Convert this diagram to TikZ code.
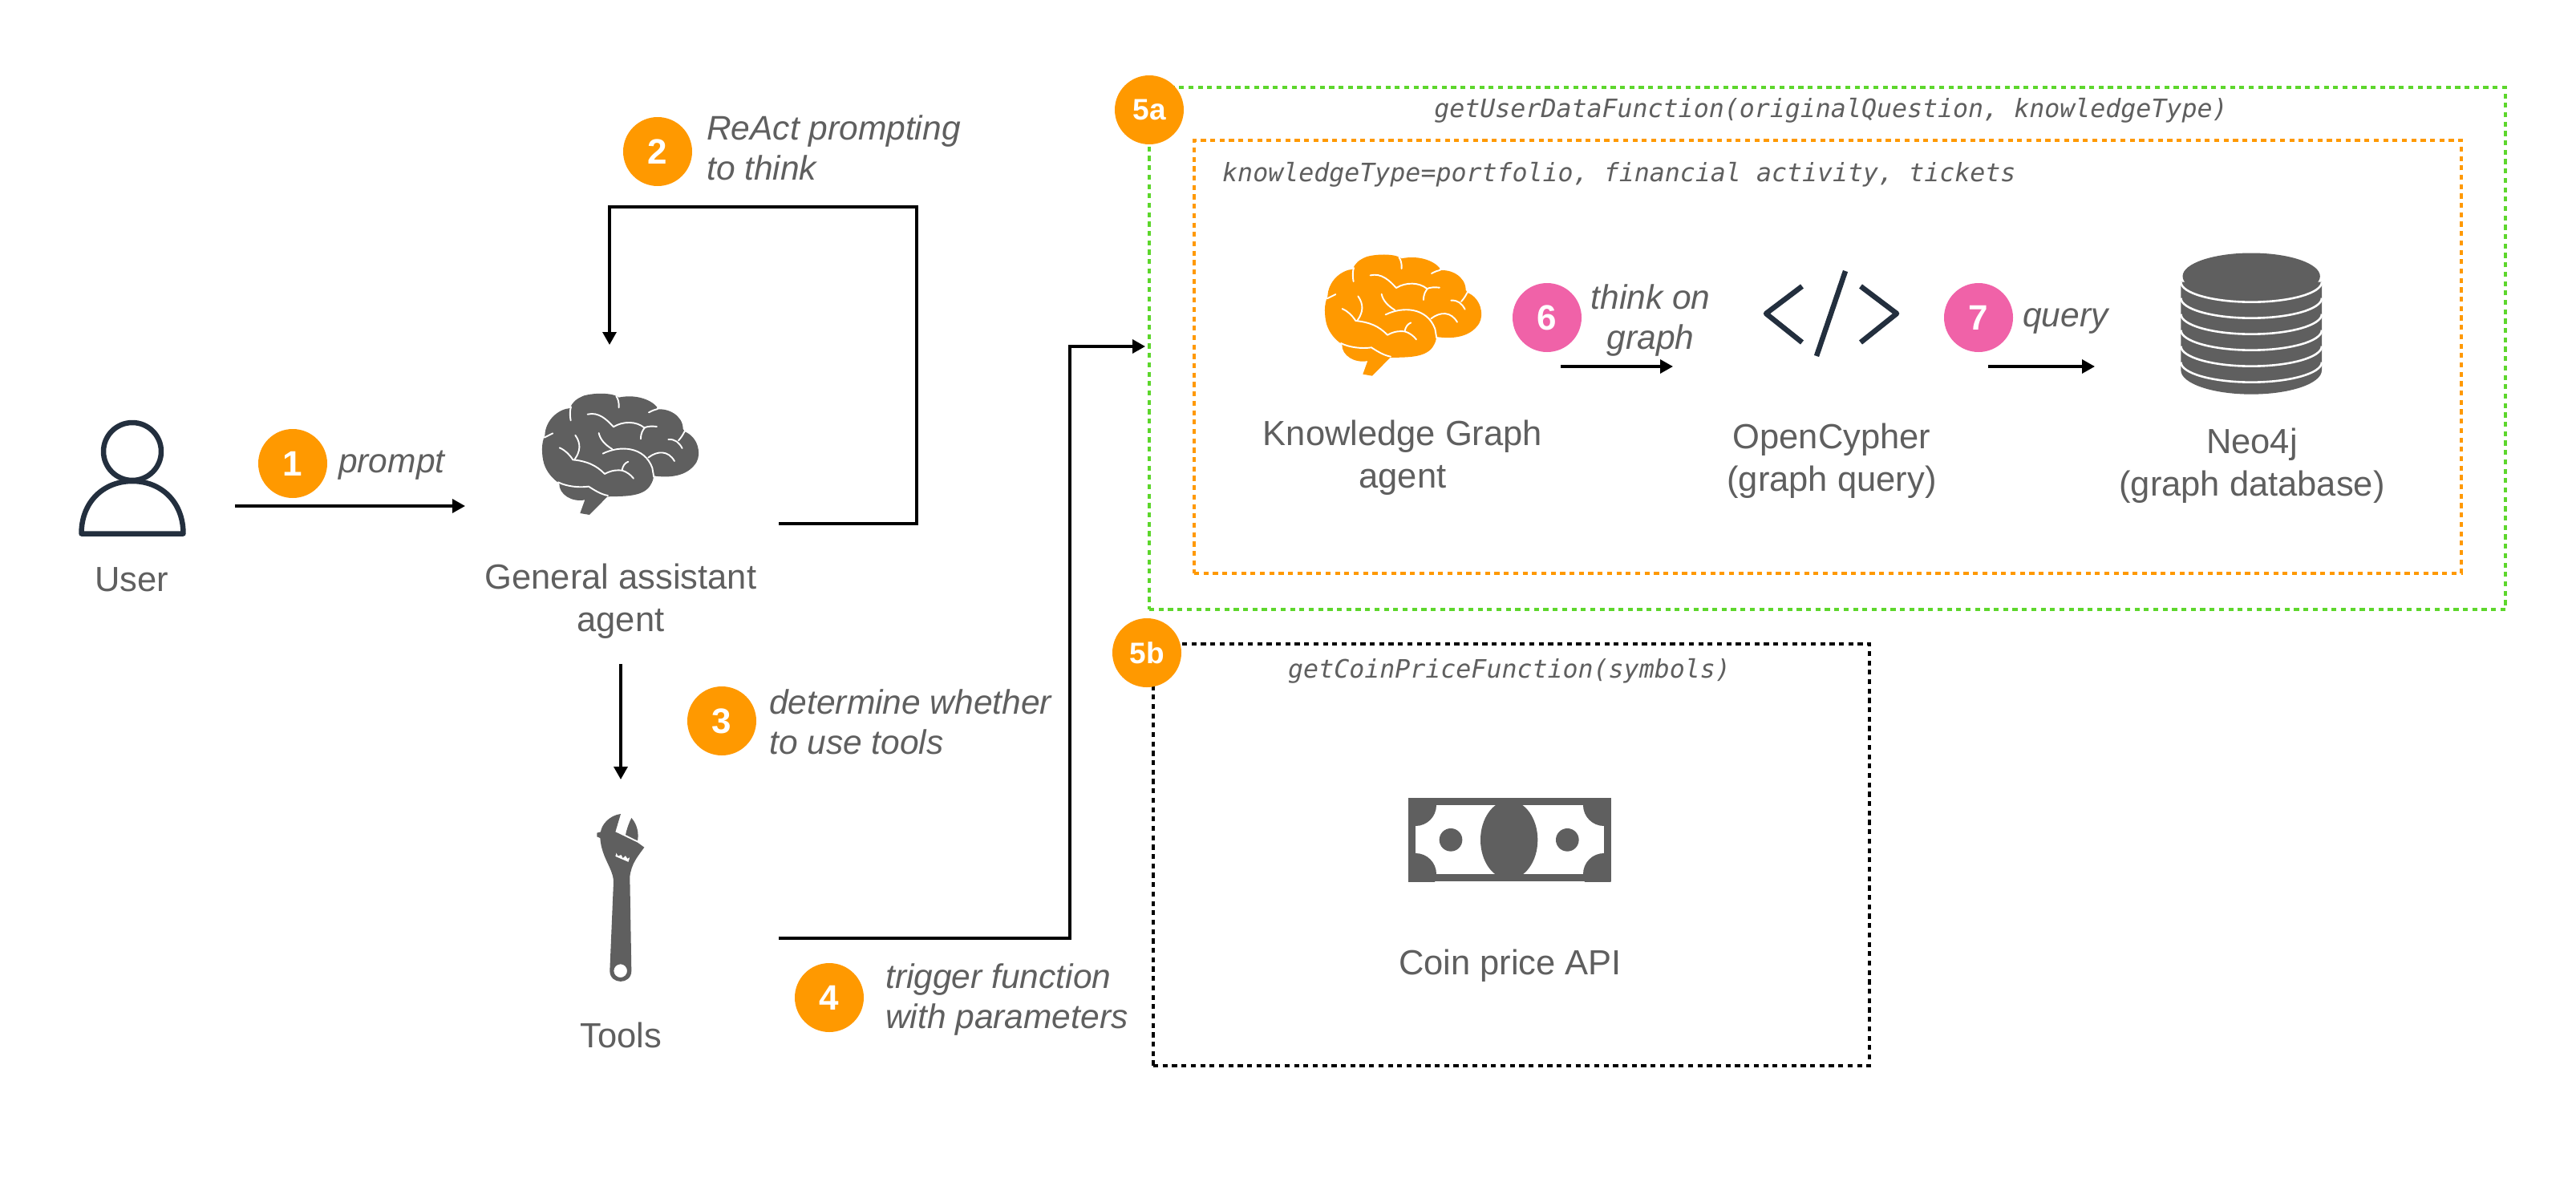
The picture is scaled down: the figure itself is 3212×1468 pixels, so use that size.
\documentclass[tikz,border=0pt]{standalone}
\usepackage{fontspec}
\setmainfont{Liberation Sans}
\newfontfamily\monoit[Scale=1]{DejaVu Sans Mono Oblique}
\usetikzlibrary{arrows.meta}
\definecolor{icongray}{HTML}{5F5F5F}
\definecolor{textgray}{HTML}{5F5F5F}
\definecolor{navy}{HTML}{232F3E}
\definecolor{stepor}{HTML}{FF9900}
\definecolor{steppk}{HTML}{F062A8}
\definecolor{dashgreen}{HTML}{5DD62C}
\newcommand{\brainicon}[3]{%
\begin{scope}[shift={(#2,#3)},x=0.3333pt,y=-0.3333pt]
\fill[#1] (370,540) -- (405,546) -- (472,478) .. controls (530,476) and (600,480) .. (630,440)
 .. controls (640,425) and (645,412) .. (645,400)
 .. controls (700,408) and (770,405) .. (805,350) .. controls (825,315) and (810,255) .. (762,235)
 -- (755,225) .. controls (755,175) and (700,145) .. (655,152) -- (658,143)
 .. controls (630,110) and (570,95) .. (515,107)
 .. controls (495,90) and (430,88) .. (385,100) .. controls (355,112) and (340,125) .. (333,147)
 .. controls (290,150) and (240,190) .. (238,250)
 .. controls (225,275) and (225,320) .. (235,355) .. controls (245,385) and (265,410) .. (292,428)
 .. controls (290,470) and (340,500) .. (388,490) -- cycle;
\begin{scope}[draw=white,line width=1.9pt,line cap=round,line join=round]
\draw (515,145) .. controls (516,125) and (512,112) .. (505,102);
\draw (335,193) .. controls (331,170) and (332,155) .. (336,142);
\draw (236,257) -- (268,241);
\draw (627,163) .. controls (640,156) and (650,152) .. (660,150);
\draw (762,232) .. controls (755,245) and (750,255) .. (738,268);
\draw (700,264) .. controls (725,262) and (740,275) .. (752,297);
\draw (398,170) .. controls (440,160) and (470,190) .. (495,217) .. controls (530,195) and (580,195) .. (610,220) .. controls (625,214) and (640,214) .. (657,216);
\draw (597,262) .. controls (597,240) and (605,228) .. (612,220);
\draw (440,240) .. controls (445,265) and (465,285) .. (490,300);
\draw (455,317) .. controls (520,285) and (610,290) .. (640,370) -- (646,405);
\draw (625,332) .. controls (660,305) and (700,305) .. (723,345);
\draw (352,248) .. controls (375,280) and (370,310) .. (350,338);
\draw (293,295) .. controls (315,305) and (330,320) .. (343,340) .. controls (395,345) and (430,360) .. (462,393) .. controls (490,378) and (510,378) .. (527,380) .. controls (545,385) and (560,397) .. (570,410);
\draw (527,378) .. controls (530,362) and (538,352) .. (550,347);
\draw (288,424) .. controls (320,440) and (365,445) .. (402,440) .. controls (425,455) and (450,470) .. (474,474);
\end{scope}
\end{scope}}
\tikzset{
 flow/.style={black,line width=3.4pt,-{Triangle[length=16pt,width=17pt]}},
 stepcirc/.style={circle,minimum size=86pt,inner sep=0pt,text=white,font=\fontsize{44}{44}\selectfont\bfseries},
 orstep/.style={stepcirc,fill=stepor},
 pkstep/.style={stepcirc,fill=steppk},
 lab/.style={text=textgray,font=\fontsize{43.5}{53}\selectfont,align=center,inner sep=0pt},
 note/.style={text=textgray,font=\fontsize{42.5}{50}\selectfont\itshape,align=left,inner sep=0pt,anchor=west},
 code/.style={text=textgray,font=\fontsize{31.6}{34}\monoit,inner sep=0pt},
 dashbox/.style={line width=4pt,dash pattern=on 6.2pt off 5.5pt},
}
\begin{document}
\begin{tikzpicture}[x=1pt,y=-1pt]
\useasboundingbox (0,0) rectangle (3212,1468);
\fill[white] (0,0) rectangle (3212,1468);
% dashed boxes
\node[dashbox,draw=dashgreen,anchor=north west,minimum width=1691pt,minimum height=651pt,inner sep=0pt] (green) at (1431,107) {};
\node[dashbox,draw=stepor,anchor=north west,minimum width=1580pt,minimum height=540pt,inner sep=0pt] (orange) at (1487,173) {};
\node[dashbox,draw=black,anchor=north west,minimum width=893pt,minimum height=526pt,inner sep=0pt] (blackbox) at (1436,801) {};
% user icon
\begin{scope}[draw=navy,line width=6.5pt,line join=round]
\draw (165,563) circle (36);
\draw (101.5,665.5) .. controls (101.5,625) and (130,600) .. (165,600) .. controls (200,600) and (228.5,625) .. (228.5,665.5) -- cycle;
\end{scope}
% brains
\brainicon{icongray}{600}{460}
\brainicon{stepor}{1576}{286.7}
% wrench
\begin{scope}[shift={(700,960)},x=0.3333pt,y=-0.3333pt]
\fill[icongray,even odd rule] (222,165) -- (202,232) -- (285,272) -- (310,290)
 .. controls (285,325) and (262,350) .. (256,400) -- (262,752)
 .. controls (262,805) and (181,805) .. (181,752) -- (195,420)
 .. controls (195,370) and (150,330) .. (145,255) -- (133,250) -- (133,236) -- (147,232)
 .. controls (150,205) and (180,170) .. (222,165) -- cycle
 (221,752) circle (25)
 (205,310) -- (212,322) -- (224,318) -- (230,330) -- (240,321) -- (247,332) -- (256,327) -- (251,345) -- (202,324) -- cycle;
\fill[icongray] (262,180) .. controls (285,205) and (290,240) .. (285,265) -- (240,243) .. controls (245,220) and (252,200) .. (262,180) -- cycle;
\end{scope}
% code icon
\begin{scope}[draw=navy,line width=6.5pt,line join=round]
\draw (2247,357) -- (2202,391) -- (2247,427);
\draw (2320,357) -- (2365,391) -- (2320,427);
\draw (2301,338) -- (2265,444);
\end{scope}
% database
\begin{scope}[shift={(2660,290)},x=0.3333pt,y=-0.3333pt]
\fill[icongray] (178,185) -- (705,185) -- (705,515) arc[start angle=0,end angle=180,x radius=263.5,y radius=90] -- cycle;
\foreach \yy in {185,245,305,365,425,485}
 \draw[white,line width=2.6pt] (178,\yy) arc[start angle=180,end angle=0,x radius=263.5,y radius=75];
\fill[white] (170,100) rectangle (713,178);
\fill[icongray] (441.5,163.5) ellipse[x radius=257,y radius=87];
\end{scope}
% money
\begin{scope}[shift={(1720,970)},x=0.3333pt,y=-0.3333pt]
\fill[icongray] (108,75) rectangle (866,387);
\fill[white] (135,102) rectangle (840,360);
\begin{scope}
\clip (108,75) rectangle (866,387);
\fill[icongray] (135,102) circle (78);
\fill[icongray] (840,102) circle (78);
\fill[icongray] (135,360) circle (78);
\fill[icongray] (840,360) circle (78);
\fill[icongray] (485,232) ellipse[x radius=107,y radius=147];
\end{scope}
\fill[icongray] (267,232) circle (43);
\fill[icongray] (703,232) circle (43);
\end{scope}
% coordinates for connectors
\coordinate (a1) at (293,631);
\coordinate (a1e) at (580,631);
\coordinate (a2) at (971,653);
\coordinate (a2e) at (760,430);
\coordinate (a3) at (774,828);
\coordinate (a3e) at (774,972);
\coordinate (a4) at (971,1170);
\coordinate (a4e) at (1428,432);
\coordinate (a6) at (1946,457);
\coordinate (a6e) at (2086,457);
\coordinate (a7) at (2479,457);
\coordinate (a7e) at (2612,457);
\draw[flow] (a1) -- (a1e);
\draw[flow] (a2) -- (1143,653) -- (1143,258) -- (760,258) -- (a2e);
\draw[flow] (a3) -- (a3e);
\draw[flow] (a4) -- (1334,1170) -- (1334,432) -- (a4e);
\draw[flow] (a6) -- (a6e);
\draw[flow] (a7) -- (a7e);
% step circles
\node[orstep] (s1) at (365,578) {1};
\node[orstep] (s2) at (820,189) {2};
\node[orstep] (s3) at (900,899) {3};
\node[orstep] (s4) at (1034,1244) {4};
\node[orstep,font=\fontsize{37}{37}\selectfont\bfseries] (s5a) at (1433,137) {5a};
\node[orstep,font=\fontsize{37}{37}\selectfont\bfseries] (s5b) at (1430,814) {5b};
\node[pkstep] (s6) at (1929,396) {6};
\node[pkstep] (s7) at (2467,396) {7};
% labels
\node[lab] (user) at (164,723) {User};
\node[lab] (general) at (774,750) {General assistant\\agent};
\node[lab] (tools) at (774,1291) {Tools};
\node[lab] (kg) at (1749,571) {Knowledge Graph\\agent};
\node[lab] (oc) at (2284,575) {OpenCypher\\(graph query)};
\node[lab] (neo) at (2808,581) {Neo4j\\(graph database)};
\node[lab] (coin) at (1883,1204) {Coin price API};
\node[note] (n1) at (422,580) {prompt};
\node[note] (n2) at (881,184) {ReAct prompting\\to think};
\node[note] (n3) at (959,900) {determine whether\\to use tools};
\node[note] (n4) at (1104,1246) {trigger function\\with parameters};
\node[note,anchor=center,align=center] (n6) at (2058,400) {think on\\graph};
\node[note] (n7) at (2522,400) {query};
\node[code] (c1) at (2283,138) {getUserDataFunction(originalQuestion, knowledgeType)};
\node[code,anchor=west] (c2) at (1524,218) {knowledgeType=portfolio, financial activity, tickets};
\node[code,anchor=west] (c3) at (1606,837) {getCoinPriceFunction(symbols)};
\end{tikzpicture}
\end{document}
